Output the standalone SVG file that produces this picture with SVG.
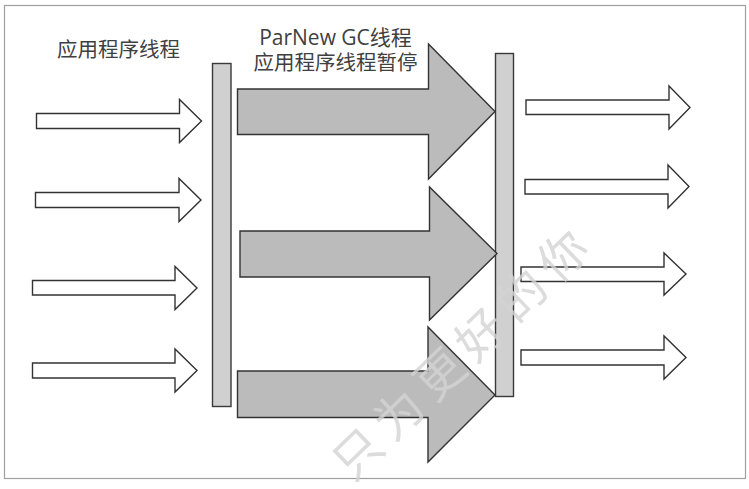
<svg xmlns="http://www.w3.org/2000/svg" width="749" height="489" viewBox="0 0 749 489">
<defs>
<style>
.frame{fill:#ffffff;stroke:#a0a0a0;stroke-width:1.2}
.bar{fill:#d0d0d0;stroke:#3a3a3a;stroke-width:1.4}
.big{fill:#bbbbbb;stroke:#333333;stroke-width:1.4;stroke-linejoin:miter}
.small{fill:#ffffff;stroke:#333333;stroke-width:1.4;stroke-linejoin:miter}
.lbl{font-family:"Open Sans","Noto Sans CJK SC",sans-serif;fill:#404040;text-anchor:middle}
.wm{font-family:"Noto Sans CJK SC",serif;fill:#d4d4d4;opacity:0.8;text-anchor:middle}
</style>
</defs>
<rect class="frame" x="4.5" y="5.5" width="741" height="473"/>
<g id="labels">
<text class="lbl" x="118.5" y="56.5" font-size="20.5">应用程序线程</text>
<text class="lbl" x="335.5" y="44.5" font-size="21">ParNew GC线程</text>
<text class="lbl" x="335.5" y="70" font-size="20.5">应用程序线程暂停</text>
</g>
<g id="bar-left"><rect class="bar" x="212.5" y="63.5" width="18.5" height="343"/></g>
<g id="bar-right"><rect class="bar" x="495.5" y="53.5" width="18" height="343"/></g>
<g id="connectors">
<g id="in-arrows">
<path class="small" d="M36.5,113.5 H179.5 V99.5 L201.5,121 L179.5,142.5 V128.5 H36.5 Z"/>
<path class="small" d="M35.5,192.5 H179 V178.5 L201,200 L179,221.5 V207.5 H35.5 Z"/>
<path class="small" d="M32.5,280.5 H175 V266.5 L197,288 L175,309.5 V295 H32.5 Z"/>
<path class="small" d="M32.5,363 H175 V349 L197,370.5 L175,392 V378 H32.5 Z"/>
</g>
<g id="gc-arrows">
<path class="big" d="M237.5,89 H428.5 V44 L495,111.5 L428.5,179 V134.5 H237.5 Z"/>
<path class="big" d="M240,231 H429.5 V187 L497,253.5 L429.5,320 V277 H240 Z"/>
<path class="big" d="M237.5,371 H428 V327 L495,395 L428,462 V417.5 H237.5 Z"/>
</g>
<g id="out-arrows">
<path class="small" d="M526,100 H669 V86 L690,107.5 L669,129 V114.5 H526 Z"/>
<path class="small" d="M525,179.5 H668 V165 L689,186.5 L668,208 V194 H525 Z"/>
<path class="small" d="M521,267 H664 V253 L686,274 L664,295 V281.5 H521 Z"/>
<path class="small" d="M521,350 H664 V336 L686,357.5 L664,379 V365 H521 Z"/>
</g>
</g>
<text class="wm" x="0" y="0" font-size="48" letter-spacing="9" transform="translate(475.5,364) rotate(-44)">只为更好的你</text>
</svg>
